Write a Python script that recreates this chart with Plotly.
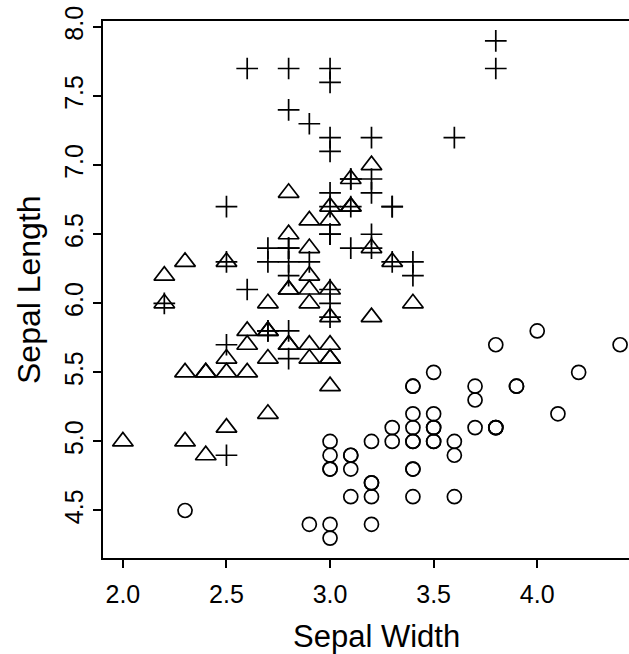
import plotly.graph_objects as go

# Edgar Anderson's iris measurements: sepal width / sepal length per species
setosa_width = [3.5, 3.0, 3.2, 3.1, 3.6, 3.9, 3.4, 3.4, 2.9, 3.1, 3.7, 3.4, 3.0, 3.0, 4.0, 4.4, 3.9,
                3.5, 3.8, 3.8, 3.4, 3.7, 3.6, 3.3, 3.4, 3.0, 3.4, 3.5, 3.4, 3.2, 3.1, 3.4, 4.1, 4.2,
                3.1, 3.2, 3.5, 3.6, 3.0, 3.4, 3.5, 2.3, 3.2, 3.5, 3.8, 3.0, 3.8, 3.2, 3.7, 3.3]
setosa_length = [5.1, 4.9, 4.7, 4.6, 5.0, 5.4, 4.6, 5.0, 4.4, 4.9, 5.4, 4.8, 4.8, 4.3, 5.8, 5.7, 5.4,
                 5.1, 5.7, 5.1, 5.4, 5.1, 4.6, 5.1, 4.8, 5.0, 5.0, 5.2, 5.2, 4.7, 4.8, 5.4, 5.2, 5.5,
                 4.9, 5.0, 5.5, 4.9, 4.4, 5.1, 5.0, 4.5, 4.4, 5.0, 5.1, 4.8, 5.1, 4.6, 5.3, 5.0]

versicolor_width = [3.2, 3.2, 3.1, 2.3, 2.8, 2.8, 3.3, 2.4, 2.9, 2.7, 2.0, 3.0, 2.2, 2.9, 2.9, 3.1,
                    3.0, 2.7, 2.2, 2.5, 3.2, 2.8, 2.5, 2.8, 2.9, 3.0, 2.8, 3.0, 2.9, 2.6, 2.4, 2.4,
                    2.7, 2.7, 3.0, 3.4, 3.1, 2.3, 3.0, 2.5, 2.6, 3.0, 2.6, 2.3, 2.7, 3.0, 2.9, 2.9,
                    2.5, 2.8]
versicolor_length = [7.0, 6.4, 6.9, 5.5, 6.5, 5.7, 6.3, 4.9, 6.6, 5.2, 5.0, 5.9, 6.0, 6.1, 5.6, 6.7,
                     5.6, 5.8, 6.2, 5.6, 5.9, 6.1, 6.3, 6.1, 6.4, 6.6, 6.8, 6.7, 6.0, 5.7, 5.5, 5.5,
                     5.8, 6.0, 5.4, 6.0, 6.7, 6.3, 5.6, 5.5, 5.5, 6.1, 5.8, 5.0, 5.6, 5.7, 5.7, 6.2,
                     5.1, 5.7]

virginica_width = [3.3, 2.7, 3.0, 2.9, 3.0, 3.0, 2.5, 2.9, 2.5, 3.6, 3.2, 2.7, 3.0, 2.5, 2.8, 3.2,
                   3.0, 3.8, 2.6, 2.2, 3.2, 2.8, 2.8, 2.7, 3.3, 3.2, 2.8, 3.0, 2.8, 3.0, 2.8, 3.8,
                   2.8, 2.8, 2.6, 3.0, 3.4, 3.1, 3.0, 3.1, 3.1, 3.1, 2.7, 3.2, 3.3, 3.0, 2.5, 3.0,
                   3.4, 3.0]
virginica_length = [6.3, 5.8, 7.1, 6.3, 6.5, 7.6, 4.9, 7.3, 6.7, 7.2, 6.5, 6.4, 6.8, 5.7, 5.8, 6.4,
                    6.5, 7.7, 7.7, 6.0, 6.9, 5.6, 7.7, 6.3, 6.7, 7.2, 6.2, 6.1, 6.4, 7.2, 7.4, 7.9,
                    6.4, 6.3, 6.1, 7.7, 6.3, 6.4, 6.0, 6.9, 6.7, 6.9, 5.8, 6.8, 6.7, 6.7, 6.3, 6.5,
                    6.2, 5.9]

x_ticks = [2.0, 2.5, 3.0, 3.5, 4.0]
y_ticks = [4.5, 5.0, 5.5, 6.0, 6.5, 7.0, 7.5, 8.0]

FONT = "Liberation Sans, Arial, sans-serif"
INK = "#000000"

# plot area in pixels (left, top, right, bottom)
L, T, R, B = 103, 21, 629, 558
W, H = R - L, B - T

fig = go.Figure()
series = [
    (setosa_width, setosa_length, "circle-open", 14),
    (versicolor_width, versicolor_length, "triangle-up-open", 18),
    (virginica_width, virginica_length, "cross-thin-open", 15.5),
]
for xs, ys, sym, size in series:
    fig.add_trace(go.Scatter(
        x=xs, y=ys, mode="markers",
        marker=dict(symbol=sym, size=size, color=INK, line=dict(color=INK, width=1.7)),
        showlegend=False, hoverinfo="skip",
    ))

fig.update_layout(
    width=629, height=654,
    margin=dict(l=L, r=629 - R, t=T, b=654 - B),
    paper_bgcolor="white", plot_bgcolor="white",
    font=dict(family=FONT, color=INK),
    xaxis=dict(
        range=[1.904, 4.443], tickvals=x_ticks, ticktext=[f"{v:.1f}" for v in x_ticks],
        showgrid=False, zeroline=False, showline=True, linecolor=INK, linewidth=2,
        mirror=True, ticks="outside", ticklen=8, tickwidth=2, tickcolor=INK,
        ticklabelstandoff=5,
        tickfont=dict(size=25, family=FONT, color=INK),
    ),
    yaxis=dict(
        range=[4.156, 8.044], tickvals=y_ticks, ticktext=[f"{v:.1f}" for v in y_ticks],
        showgrid=False, zeroline=False, showline=True, linecolor=INK, linewidth=2,
        mirror=False, ticks="outside", ticklen=8, tickwidth=2, tickcolor=INK,
        tickangle=-90, tickfont=dict(size=25, family=FONT, color=INK),
    ),
    annotations=[
        dict(text="Sepal Width", xref="paper", yref="paper", x=(376 - L) / W, y=-(636 - B) / H,
             xanchor="center", yanchor="middle", showarrow=False,
             font=dict(size=31, family=FONT, color=INK)),
        dict(text="Sepal Length", xref="paper", yref="paper", x=-(L - 29) / W, y=(B - 290) / H,
             xanchor="center", yanchor="middle", textangle=-90, showarrow=False,
             font=dict(size=32, family=FONT, color=INK)),
    ],
)

fig.write_html("out.html")
